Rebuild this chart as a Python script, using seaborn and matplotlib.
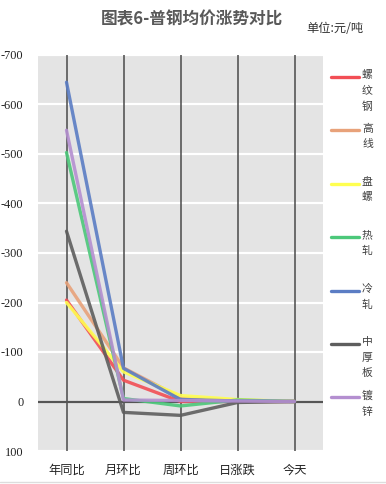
import pandas as pd
import seaborn as sns
from matplotlib import pyplot as plt
from matplotlib.lines import Line2D

# data (元/吨)
categories = ['年同比', '月环比', '周环比', '日涨跌', '今天']
products = ['螺纹钢', '高线', '盘螺', '热轧', '冷轧', '中厚板', '镀锌']
luowengang = [-205, -43, 0, 0, 0]
gaoxian = [-240, -68, -8, -2, 0]
panluo = [-200, -60, -12, -4, 0]
rezha = [-503, -6, 9, -3, 0]
lengzha = [-645, -67, -4, -1, 0]
zhonghouban = [-344, 22, 28, 2, 0]
duxin = [-548, -3, -2, -1, 0]
colors = ['#f24e55', '#e8a27a', '#ffff50', '#4cc87a', '#5b7dc4', '#5e5e5e', '#b48fd0']

series = [luowengang, gaoxian, panluo, rezha, lengzha, zhonghouban, duxin]

rows = []
for name, vals in zip(products, series):
    for c, v in zip(categories, vals):
        rows.append([name, c, v])
df = pd.DataFrame(rows, columns=['品种', '类别', '价格'])

sns.set_theme(style='white')
plt.rcParams['font.family'] = ['Noto Sans CJK SC', 'DejaVu Sans']
plt.rcParams['axes.unicode_minus'] = False

fig = plt.figure(figsize=(3.86, 4.84), dpi=100)
ax = fig.add_axes([38 / 386, 1 - 451 / 484, 285 / 386, 396 / 484])
ax.set_facecolor('#e4e4e4')

sns.lineplot(data=df, x='类别', y='价格', hue='品种', palette=colors, sort=False,
             linewidth=2.4, alpha=0.9, legend=False, ax=ax, zorder=3)

ax.set_xlim(-0.5, 4.5)
ax.set_ylim(100, -700)
ax.set_yticks(range(-700, 101, 100))
ax.yaxis.grid(True, color='white', linewidth=1.6)
for i in range(len(categories)):
    ax.axvline(i, color='#4a4a4a', linewidth=1.1, zorder=2)
ax.axhline(0, color='#555555', linewidth=1.6, zorder=2)
for s in ax.spines.values():
    s.set_visible(False)
ax.tick_params(axis='y', length=0, pad=10.5)
ax.tick_params(axis='x', length=0, pad=9)
ax.set_xlabel('')
ax.set_ylabel('')
for lab in ax.get_yticklabels():
    lab.set_family('Liberation Serif')
    lab.set_fontsize(8.8)
    lab.set_color('#222222')
for lab in ax.get_xticklabels():
    lab.set_fontsize(8.8)
    lab.set_color('#222222')

fig.text(192 / 386, 1 - 20 / 484, '图表6-普钢均价涨势对比', ha='center', va='center',
         fontsize=12, fontweight='bold', color='#595959')
fig.text(335 / 386, 1 - 28 / 484, '单位:元/吨', ha='center', va='center',
         fontsize=8.8, color='#333333')

# legend: one character per line, handle beside the first character
for i, (name, col) in enumerate(zip(products, colors)):
    y = 77 + i * 53.4
    fig.add_artist(Line2D([331 / 386, 359 / 386], [1 - y / 484, 1 - y / 484],
                          color=col, linewidth=2.4, transform=fig.transFigure))
    fig.text(362 / 386, 1 - (y - 7) / 484, '\n'.join(name), ha='left', va='top',
             fontsize=7.8, color='#404040', linespacing=1.7)

fig.add_artist(Line2D([0, 1], [1 - 482 / 484] * 2, color='#dddddd', linewidth=1,
                      transform=fig.transFigure))

plt.savefig('out.png', dpi=100)
